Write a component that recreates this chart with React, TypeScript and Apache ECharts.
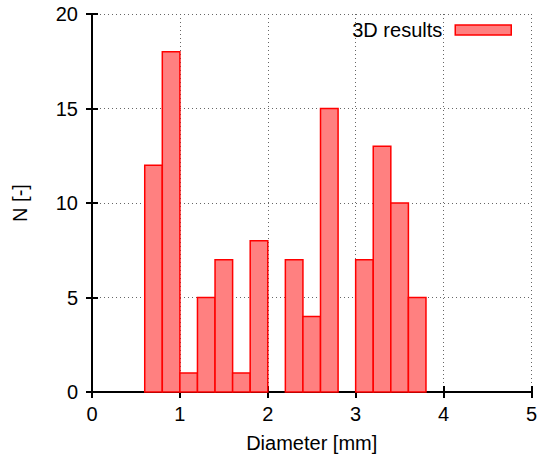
import React, { useEffect, useRef } from "react";
import * as echarts from "echarts";

const binCenters = [0.7, 0.9, 1.1, 1.3, 1.5, 1.7, 1.9, 2.1, 2.3, 2.5, 2.7, 2.9, 3.1, 3.3, 3.5, 3.7];
const counts = [12, 18, 1, 5, 7, 1, 8, 0, 7, 4, 15, 0, 7, 13, 10, 5];
const BIN_WIDTH = 0.2;
const xTicks = [0, 1, 2, 3, 4, 5];
const yTicks = [0, 5, 10, 15, 20];
const seriesName = "3D results";

const FONT = "Liberation Sans, Arial, sans-serif";
const FS = 20;

export default function App() {
  const ref = useRef<HTMLDivElement>(null);
  useEffect(() => {
    if (!ref.current) return;
    const chart = echarts.init(ref.current, null, { renderer: "svg" });
    const data = binCenters.map((x, i) => [x, counts[i]]);
    const axisLine = { show: true, lineStyle: { color: "#000", width: 2 } };
    const tick = { show: true, inside: true, length: 6, lineStyle: { color: "#000", width: 2 } };
    const split = { show: true, lineStyle: { color: "#666", type: [1, 3], width: 1 } };
    chart.setOption({
      animation: false,
      backgroundColor: "#fff",
      textStyle: { fontFamily: FONT },
      grid: { left: 92, right: 4, top: 14, bottom: 67, containLabel: false },
      legend: {
        show: true,
        right: 23,
        top: 15,
        align: "right",
        itemWidth: 56,
        itemHeight: 10,
        textStyle: { fontFamily: FONT, fontSize: FS, color: "#000", padding: [0, 8, 0, 0] },
        data: [{ name: seriesName, icon: "rect", itemStyle: { color: "#ff8080", borderColor: "#ff0000", borderWidth: 1.5 } }],
      },
      xAxis: [
        {
          type: "value",
          min: xTicks[0],
          max: xTicks[xTicks.length - 1],
          interval: 1,
          name: "Diameter [mm]",
          nameLocation: "middle",
          nameGap: 41,
          nameTextStyle: { fontFamily: FONT, fontSize: FS, color: "#000" },
          axisLine,
          axisTick: tick,
          axisLabel: { color: "#000", fontSize: FS, fontFamily: FONT, margin: 12 },
          splitLine: split,
        },
        {
          type: "value",
          position: "top",
          min: xTicks[0],
          max: xTicks[xTicks.length - 1],
          interval: 1,
          axisLine,
          axisTick: tick,
          axisLabel: { show: false },
          splitLine: { show: false },
        },
      ],
      yAxis: [
        {
          type: "value",
          min: yTicks[0],
          max: yTicks[yTicks.length - 1],
          interval: 5,
          name: "N [-]",
          nameLocation: "middle",
          nameGap: 62,
          nameTextStyle: { fontFamily: FONT, fontSize: FS, color: "#000" },
          axisLine,
          axisTick: tick,
          axisLabel: { color: "#000", fontSize: FS, fontFamily: FONT, margin: 14 },
          splitLine: split,
        },
        {
          type: "value",
          position: "right",
          min: yTicks[0],
          max: yTicks[yTicks.length - 1],
          interval: 5,
          axisLine,
          axisTick: tick,
          axisLabel: { show: false },
          splitLine: { show: false },
        },
      ],
      series: [
        {
          name: seriesName,
          type: "custom",
          xAxisIndex: 0,
          yAxisIndex: 0,
          data,
          itemStyle: { color: "#ff8080", borderColor: "#ff0000" },
          renderItem: (params: any, api: any) => {
            const x = api.value(0);
            const y = api.value(1);
            if (!(y > 0)) return null;
            const p1 = api.coord([x - BIN_WIDTH / 2, y]);
            const p2 = api.coord([x + BIN_WIDTH / 2, 0]);
            return {
              type: "rect",
              shape: { x: p1[0], y: p1[1], width: p2[0] - p1[0], height: p2[1] - p1[1] },
              style: { fill: "#ff8080", stroke: "#ff0000", lineWidth: 1.5 },
            };
          },
        },
      ],
    });
    return () => chart.dispose();
  }, []);
  return <div ref={ref} style={{ width: 540, height: 459, position: "absolute", left: 0, top: 0 }} />;
}
